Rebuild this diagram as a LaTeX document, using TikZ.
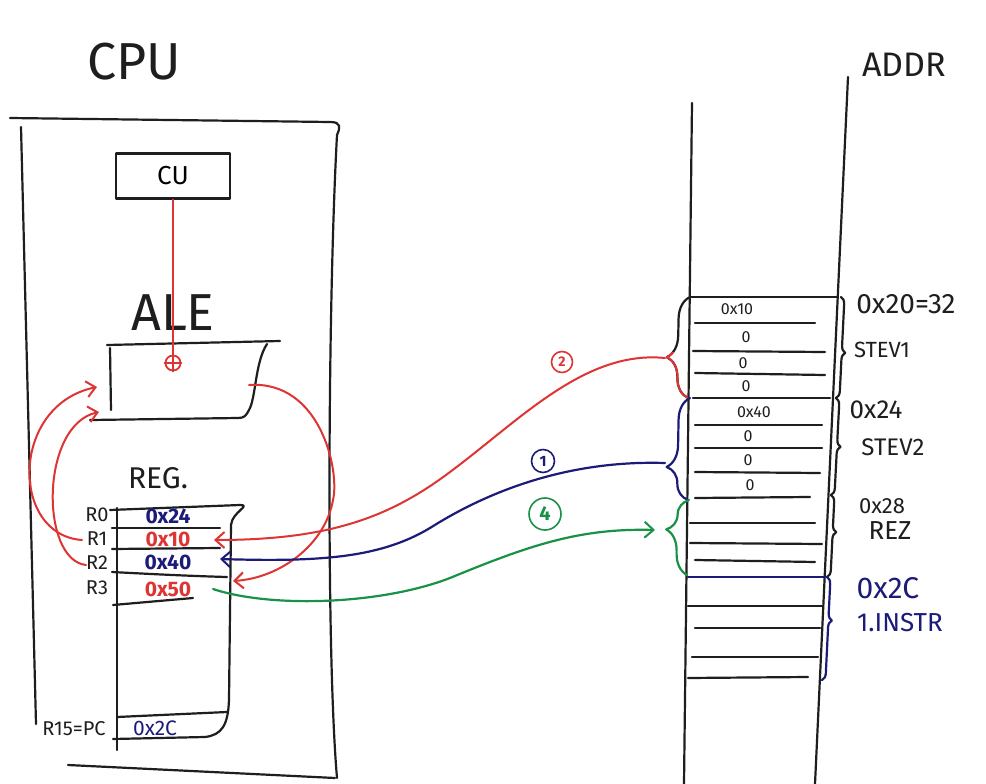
\documentclass[tikz,border=0pt]{standalone}
\usepackage{fontspec}
\setmainfont{Fira Sans}
\usetikzlibrary{arrows.meta,decorations.pathreplacing}
\definecolor{pred}{RGB}{222,52,52}
\definecolor{pnavy}{RGB}{28,28,120}
\definecolor{pgreen}{RGB}{25,145,70}
\definecolor{inkblack}{RGB}{30,30,30}
\newcommand\hsz[1]{\fontsize{#1}{#1}\selectfont}
\begin{document}
\begin{tikzpicture}[x=1pt,y=-1pt,
  ink/.style={draw=inkblack, line width=2.2pt, line cap=round, line join=round},
  redl/.style={draw=pred, line width=2pt, line cap=round, line join=round},
  navyl/.style={draw=pnavy, line width=2.2pt, line cap=round, line join=round},
  greenl/.style={draw=pgreen, line width=2.2pt, line cap=round, line join=round},
  arr/.style={-{Straight Barb[length=9pt,width=16pt,line width=2pt]}},
  lbl/.style={inner sep=0pt, text=inkblack},
  regl/.style={inner sep=0pt, text=inkblack, font=\hsz{20}},
  regv/.style={inner sep=0pt, font=\bfseries\hsz{21}},
  cellt/.style={inner sep=0pt, text=inkblack, font=\hsz{16}},
  numc/.style={circle, line width=1.6pt, inner sep=1pt},
  lbrace/.style={decorate, decoration={brace, amplitude=22pt, aspect=#1}},
  rbrace/.style={decorate, decoration={brace, amplitude=7pt, aspect=#1}}]
\useasboundingbox (0,0) rectangle (986,784);
\fill[white] (0,0) rectangle (986,784);

% ---------------- CPU ----------------
\node[lbl, font=\hsz{52}] (cpu) at (134,62) {CPU};
\draw[ink] (10,118) -- (330,122) .. controls (342,122) and (340,128) .. (337,135)
  .. controls (328,300) and (326,650) .. (337,778);
\draw[ink] (21,127) -- (36,724);
\draw[ink] (68,765) -- (335,778);

% CU
\node[ink, minimum width=114pt, minimum height=45pt, font=\hsz{26}] (cu) at (173,176) {CU};

% ALE
\node[lbl, font=\hsz{52}] (ale) at (173,313) {ALE};
\draw[ink] (107,345) -- (280,341);
\draw[ink] (110,348) -- (111,410);
\draw[ink] (267,344) .. controls (255,362) and (256,398) .. (249,410)
  .. controls (246,416) and (244,418) .. (238,418) -- (90,420);
\node[circle, draw=pred, line width=1.8pt, minimum size=15pt, inner sep=0pt] (alu) at (173,363) {};
\draw[redl] (alu.north) -- (alu.south) (alu.west) -- (alu.east);
\draw[redl] (cu.south) -- (alu.north);
\coordinate (aleL1) at (97,387);
\coordinate (aleL2) at (99,412);
\coordinate (aleR) at (249,385);

% REG
\node[lbl, font=\hsz{30}] (reg) at (158,478) {REG.};
\draw[ink] (117,508) -- (117,750);
\draw[ink] (110,510) -- (240,505) .. controls (252,505) and (232,512) .. (231,525)
  -- (229,700) .. controls (228,725) and (222,735) .. (205,737) -- (113,739);
\draw[ink] (112,528) -- (220,528);
\draw[ink] (112,549) -- (220,548);
\draw[ink] (112,572) .. controls (150,574) and (190,576) .. (227,577);
\draw[ink] (113,605) -- (193,598);
\draw[ink] (117,717) -- (227,712);

\node[regl] (r0) at (97,515) {R0};
\node[regl] (r1) at (97,539) {R1};
\node[regl] (r2) at (97,563) {R2};
\node[regl] (r3) at (97,588) {R3};
\node[regl] (r15) at (74,729) {R15=PC};
\node[regv, text=pnavy] (r0v) at (168,516) {0x24};
\node[regv, text=pred]  (r1v) at (168,539) {0x10};
\node[regv, text=pnavy] (r2v) at (168,562) {0x40};
\node[regv, text=pred]  (r3v) at (168,589) {0x50};
\node[inner sep=0pt, text=pnavy, font=\hsz{21}] (pcv) at (155,728) {0x2C};

\coordinate (r1src) at (82,540);
\coordinate (r2src) at (86,565);
\coordinate (r1in) at (214,540);
\coordinate (r2in) at (220,559);
\coordinate (r3in) at (233,581);
\coordinate (r3out) at (213,589);

% red arrows inside CPU
\draw[redl, arr] (r1src) .. controls (10,535) and (10,405) .. (aleL1);
\draw[redl, arr] (r2src) .. controls (40,560) and (40,425) .. (aleL2);
\draw[redl, arr] (aleR) .. controls (320,380) and (340,470) .. (333,500)
  .. controls (325,545) and (280,578) .. (r3in);

% ---------------- MEMORY ----------------
\node[lbl, font=\hsz{34}] (addr) at (904,65) {ADDR};
\draw[ink] (692,103) -- (684,784);
\draw[ink] (848,77) -- (815,784);

\draw[ink] (690,297) -- (838,297);
\draw[ink] (695,323) -- (815,323);
\draw[ink] (693,351) -- (825,352);
\draw[ink] (695,373) -- (825,375);
\draw[ink] (693,398) -- (830,398);
\draw[ink] (695,425) -- (822,425);
\draw[ink] (695,448) -- (822,448);
\draw[ink] (695,472) -- (820,473);
\draw[ink] (695,498) -- (810,497);
\draw[ink] (690,523) -- (815,523);
\draw[ink] (690,543) -- (822,544);
\draw[ink] (695,560) -- (815,562);
\draw[navyl] (688,577) -- (825,577);
\draw[ink] (688,606) -- (822,606);
\draw[ink] (695,628) -- (820,628);
\draw[ink] (692,657) -- (818,657);
\draw[ink] (688,678) -- (808,677);

\node[cellt] (m0) at (737,309) {0x10};
\node[cellt] (m1) at (746,337) {0};
\node[cellt] (m2) at (743,363) {0};
\node[cellt] (m3) at (746,386) {0};
\node[cellt] (m4) at (754,412) {0x40};
\node[cellt] (m5) at (748,436) {0};
\node[cellt] (m6) at (748,460) {0};
\node[cellt] (m7) at (750,485) {0};

% right braces and labels
\draw[ink, rbrace=0.55] (841,297) -- (836,398);
\draw[ink, rbrace=0.5] (836,398) -- (831,495);
\draw[ink, rbrace=0.45] (831,495) -- (827,577);
\draw[navyl, rbrace=0.42] (827,577) -- (822,680);
\node[lbl, font=\hsz{28}] (a20) at (906,304) {0x20=32};
\node[lbl, font=\hsz{22}] (s1) at (882,350) {STEV1};
\node[lbl, font=\hsz{26}] (a24) at (876,410) {0x24};
\node[lbl, font=\hsz{24}] (s2) at (893,447) {STEV2};
\node[lbl, font=\hsz{22}] (a28) at (882,506) {0x28};
\node[lbl, font=\hsz{26}] (rez) at (890,531) {REZ};
\node[lbl, text=pnavy, font=\hsz{30}] (a2c) at (888,588) {0x2C};
\node[lbl, text=pnavy, font=\hsz{26}] (ins) at (900,623) {1.INSTR};

% left braces
\draw[ink, lbrace=0.4] (688,398) -- (690,297);
\begin{scope}
  \clip (600,352) rectangle (700,402);
  \draw[redl, lbrace=0.4] (688,398) -- (690,297);
\end{scope}
\draw[navyl, lbrace=0.32] (688,500) -- (690,398);
\draw[greenl, lbrace=0.6] (687,575) -- (689,500);
\coordinate (b20) at (665,358);
\coordinate (b24) at (665,463);
\coordinate (b28) at (655,530);

% ---------------- connectors ----------------
\draw[redl, arr] (b20) .. controls (585,350) and (520,420) .. (450,472)
  .. controls (390,517) and (330,540) .. (r1in);
\draw[navyl, arr] (b24) .. controls (570,460) and (490,490) .. (430,528)
  .. controls (380,558) and (320,562) .. (r2in);
\draw[greenl, arr] (r3out) .. controls (270,608) and (380,605) .. (450,578)
  .. controls (530,545) and (580,528) .. (b28);

\node[numc, draw=pred, text=pred, minimum size=21pt, font=\bfseries\hsz{14}] (n2) at (562,362) {2};
\node[numc, draw=pnavy, text=pnavy, minimum size=23pt, font=\bfseries\hsz{15}] (n1) at (543,461) {1};
\node[numc, draw=pgreen, text=pgreen, minimum size=32pt, font=\bfseries\hsz{20}] (n4) at (545,514) {4};
\end{tikzpicture}
\end{document}
